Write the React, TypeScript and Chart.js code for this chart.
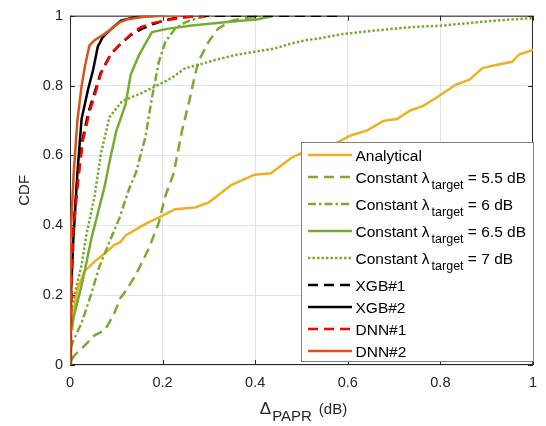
import { useEffect, useRef } from "react";
import { Chart, registerables } from "chart.js";

Chart.register(...registerables);

const FONT = '"Liberation Sans", Arial, Helvetica, sans-serif';
const AXIS_COLOR = "#262626";

const xTicks = [0, 0.2, 0.4, 0.6, 0.8, 1];
const yTicks = [0, 0.2, 0.4, 0.6, 0.8, 1];

const analyticalX = [0.005, 0.01, 0.017, 0.031, 0.053, 0.075, 0.095, 0.109, 0.12, 0.14, 0.163, 0.199, 0.227, 0.27, 0.299, 0.313, 0.349, 0.399, 0.434, 0.477, 0.498, 0.534, 0.573, 0.606, 0.641, 0.677, 0.706, 0.734, 0.763, 0.791, 0.834, 0.863, 0.891, 0.92, 0.955, 0.97, 1.0];
const analyticalY = [0.1, 0.174, 0.22, 0.268, 0.296, 0.319, 0.343, 0.352, 0.371, 0.386, 0.404, 0.427, 0.446, 0.451, 0.465, 0.479, 0.516, 0.545, 0.549, 0.592, 0.606, 0.625, 0.634, 0.657, 0.671, 0.699, 0.704, 0.728, 0.742, 0.765, 0.803, 0.817, 0.85, 0.859, 0.868, 0.889, 0.902];

const c55X = [0.003, 0.01, 0.032, 0.053, 0.075, 0.095, 0.109, 0.12, 0.142, 0.17, 0.192, 0.206, 0.224, 0.242, 0.256, 0.267, 0.277, 0.299, 0.32, 0.349, 0.387, 0.43];
const c55Y = [0.015, 0.028, 0.056, 0.085, 0.099, 0.146, 0.192, 0.211, 0.258, 0.333, 0.408, 0.484, 0.549, 0.671, 0.746, 0.812, 0.868, 0.925, 0.963, 0.986, 0.995, 1.0];

const c6X = [0.002, 0.007, 0.025, 0.045, 0.063, 0.085, 0.106, 0.127, 0.142, 0.163, 0.177, 0.192, 0.206, 0.227, 0.249, 0.28, 0.31];
const c6Y = [0.05, 0.07, 0.12, 0.2, 0.28, 0.352, 0.418, 0.502, 0.549, 0.653, 0.765, 0.868, 0.925, 0.963, 0.981, 0.995, 1.0];

const c65X = [0.002, 0.006, 0.027, 0.046, 0.075, 0.085, 0.1, 0.12, 0.131, 0.149, 0.177, 0.213, 0.263, 0.334, 0.406, 0.44];
const c65Y = [0.11, 0.127, 0.239, 0.361, 0.512, 0.58, 0.67, 0.746, 0.831, 0.887, 0.953, 0.963, 0.972, 0.981, 0.99, 1.0];

const c7X = [0.001, 0.003, 0.025, 0.035, 0.053, 0.067, 0.085, 0.113, 0.149, 0.185, 0.22, 0.249, 0.277, 0.313, 0.356, 0.399, 0.442, 0.477, 0.509, 0.534, 0.591, 0.663, 0.734, 0.806, 0.877, 0.948, 1.0];
const c7Y = [0.14, 0.164, 0.286, 0.37, 0.483, 0.606, 0.709, 0.756, 0.775, 0.798, 0.822, 0.85, 0.859, 0.873, 0.887, 0.897, 0.906, 0.92, 0.93, 0.934, 0.948, 0.958, 0.967, 0.972, 0.981, 0.989, 0.993];

const xgb1X = [0, 0.003, 0.006, 0.016, 0.027, 0.04, 0.052, 0.066, 0.088, 0.11, 0.132, 0.155, 0.178, 0.2, 0.225, 0.25, 0.3, 0.581];
const xgb1Y = [0, 0.26, 0.37, 0.53, 0.645, 0.725, 0.775, 0.835, 0.89, 0.92, 0.945, 0.962, 0.975, 0.985, 0.993, 0.998, 1, 1];

const xgb2X = [0, 0.002, 0.007, 0.016, 0.025, 0.039, 0.05, 0.06, 0.071, 0.089, 0.11, 0.146, 0.2];
const xgb2Y = [0, 0.2, 0.352, 0.55, 0.704, 0.789, 0.845, 0.911, 0.939, 0.962, 0.986, 0.998, 1];

const dnn1X = [0, 0.004, 0.007, 0.018, 0.028, 0.042, 0.053, 0.067, 0.089, 0.11, 0.132, 0.153, 0.175, 0.196, 0.22, 0.26, 0.29];
const dnn1Y = [0, 0.25, 0.38, 0.53, 0.643, 0.723, 0.77, 0.835, 0.892, 0.92, 0.948, 0.967, 0.978, 0.983, 0.99, 0.997, 1];

const dnn2X = [0, 0.001, 0.008, 0.016, 0.025, 0.032, 0.042, 0.053, 0.075, 0.089, 0.107, 0.125, 0.16, 0.19, 0.24];
const dnn2Y = [0, 0.36, 0.55, 0.7, 0.798, 0.854, 0.915, 0.93, 0.948, 0.962, 0.981, 0.99, 0.997, 1, 1];

const legendMain = ["Analytical", "Constant λ", "Constant λ", "Constant λ", "Constant λ", "XGB#1", "XGB#2", "DNN#1", "DNN#2"];
const legendSub = ["", "target", "target", "target", "target", "", "", "", ""];
const legendSuffix = ["", " = 5.5 dB", " = 6 dB", " = 6.5 dB", " = 7 dB", "", "", "", ""];

const seriesX = [analyticalX, c55X, c6X, c65X, c7X, xgb1X, xgb2X, dnn1X, dnn2X];
const seriesY = [analyticalY, c55Y, c6Y, c65Y, c7Y, xgb1Y, xgb2Y, dnn1Y, dnn2Y];
const seriesColor = ["#EDB120", "#77AC30", "#77AC30", "#77AC30", "#77AC30", "#000000", "#000000", "#FF0000", "#D95319"];
const seriesDash: number[][] = [[], [10, 6], [8, 3, 2.5, 3], [], [2.5, 2], [10, 6], [], [10, 6], []];

const framePlugin = {
  id: "matlabFrame",
  beforeDatasetsDraw(chart: any) {
    const { ctx, chartArea: a, scales } = chart;
    ctx.save();
    ctx.strokeStyle = AXIS_COLOR;
    ctx.lineWidth = 1;
    ctx.strokeRect(a.left + 0.5, a.top + 0.5, a.right - a.left - 1, a.bottom - a.top - 1);
    const L = 5;
    ctx.beginPath();
    for (const v of xTicks) {
      const px = Math.round(scales.x.getPixelForValue(v)) + 0.5;
      ctx.moveTo(px, a.bottom);
      ctx.lineTo(px, a.bottom - L);
      ctx.moveTo(px, a.top);
      ctx.lineTo(px, a.top + L);
    }
    for (const v of yTicks) {
      const py = Math.round(scales.y.getPixelForValue(v)) + 0.5;
      ctx.moveTo(a.left, py);
      ctx.lineTo(a.left + L, py);
      ctx.moveTo(a.right, py);
      ctx.lineTo(a.right - L, py);
    }
    ctx.stroke();

    // x axis title with subscript
    ctx.fillStyle = AXIS_COLOR;
    ctx.textBaseline = "alphabetic";
    const fD = `17px ${FONT}`;
    const fM = `15px ${FONT}`;
    ctx.font = fD;
    const wD = ctx.measureText("Δ").width;
    ctx.font = fM;
    const wP = ctx.measureText("PAPR").width;
    const wS = ctx.measureText("(dB)").width;
    const gap = 7;
    const total = wD + 1 + wP + gap + wS;
    const cx = (a.left + a.right) / 2 + 2;
    let x = cx - total / 2;
    const base = 414;
    ctx.font = fD;
    ctx.fillText("Δ", x, base);
    x += wD + 1;
    ctx.font = fM;
    ctx.fillText("PAPR", x, base + 7);
    x += wP + gap;
    ctx.fillText("(dB)", x, base);

    ctx.save();
    ctx.translate(25, (a.top + a.bottom) / 2);
    ctx.rotate(-Math.PI / 2);
    ctx.textAlign = "center";
    ctx.textBaseline = "middle";
    ctx.font = `15px ${FONT}`;
    ctx.fillText("CDF", 0, 0);
    ctx.restore();
    ctx.restore();
  },
};

const legendPlugin = {
  id: "texLegend",
  afterDraw(chart: any) {
    const ctx = chart.ctx;
    const bx = 301, by = 142, bw = 232, bh = 219;
    ctx.save();
    ctx.fillStyle = "#ffffff";
    ctx.fillRect(bx, by, bw, bh);
    ctx.strokeStyle = "#808080";
    ctx.lineWidth = 1;
    ctx.strokeRect(bx + 0.5, by + 0.5, bw, bh);
    let top = by + 2;
    chart.data.datasets.forEach((ds: any, i: number) => {
      const h = legendSub[i] ? 27 : 22;
      const cy = legendSub[i] ? top + 11 : top + h / 2;
      ctx.save();
      ctx.strokeStyle = ds.borderColor;
      ctx.lineWidth = ds.borderWidth;
      ctx.setLineDash(ds.borderDash || []);
      ctx.beginPath();
      ctx.moveTo(308, cy);
      ctx.lineTo(352, cy);
      ctx.stroke();
      ctx.restore();
      ctx.fillStyle = "#000000";
      ctx.textBaseline = "alphabetic";
      ctx.font = `15.5px ${FONT}`;
      let x = 355.5;
      const base = cy + 5.5;
      ctx.fillText(legendMain[i], x, base);
      x += ctx.measureText(legendMain[i]).width;
      if (legendSub[i]) {
        ctx.font = `12.5px ${FONT}`;
        ctx.fillText(legendSub[i], x + 2, base + 6);
        x += ctx.measureText(legendSub[i]).width + 2;
        ctx.font = `15.5px ${FONT}`;
        ctx.fillText(legendSuffix[i], x, base);
      }
      top += h;
    });
    ctx.restore();
  },
};

function fmt(v: number) {
  return String(Number(v.toFixed(1)));
}

export default function App() {
  const ref = useRef<HTMLCanvasElement | null>(null);
  useEffect(() => {
    if (!ref.current) return;
    const datasets = seriesX.map((xs, i) => ({
      label: legendMain[i] + legendSub[i] + legendSuffix[i],
      data: xs.map((x, j) => ({ x, y: seriesY[i][j] })),
      borderColor: seriesColor[i],
      backgroundColor: seriesColor[i],
      borderWidth: 2.5,
      borderDash: seriesDash[i],
      pointRadius: 0,
      tension: 0,
      fill: false,
      order: seriesX.length - i,
    }));
    const chart = new Chart(ref.current, {
      type: "line",
      data: { datasets },
      options: {
        animation: false,
        responsive: false,
        events: [],
        layout: { padding: { left: 0, top: 10, right: 8, bottom: 0 } },
        plugins: { legend: { display: false }, tooltip: { enabled: false } },
        scales: {
          x: {
            type: "linear",
            min: 0,
            max: 1,
            afterFit: (s: any) => { s.height = 61; },
            afterBuildTicks: (s: any) => { s.ticks = xTicks.map((v) => ({ value: v })); },
            border: { display: false },
            grid: { color: "#e3e3e3", drawTicks: false, lineWidth: 1 },
            ticks: { padding: 9, color: AXIS_COLOR, font: { family: FONT, size: 14.5 }, maxRotation: 0, callback: (v: any) => fmt(Number(v)) },
          },
          y: {
            type: "linear",
            min: 0,
            max: 1,
            afterFit: (s: any) => { s.width = 70; },
            afterBuildTicks: (s: any) => { s.ticks = yTicks.map((v) => ({ value: v })); },
            border: { display: false },
            grid: { color: "#e3e3e3", drawTicks: false, lineWidth: 1 },
            ticks: { padding: 7, color: AXIS_COLOR, font: { family: FONT, size: 14.5 }, callback: (v: any) => fmt(Number(v)) },
          },
        },
      },
      plugins: [framePlugin, legendPlugin],
    });
    return () => chart.destroy();
  }, []);
  return (
    <div style={{ position: "fixed", left: 0, top: 0, width: 546, height: 426, background: "#fff" }}>
      <canvas ref={ref} width={546} height={426} style={{ display: "block" }} />
    </div>
  );
}
